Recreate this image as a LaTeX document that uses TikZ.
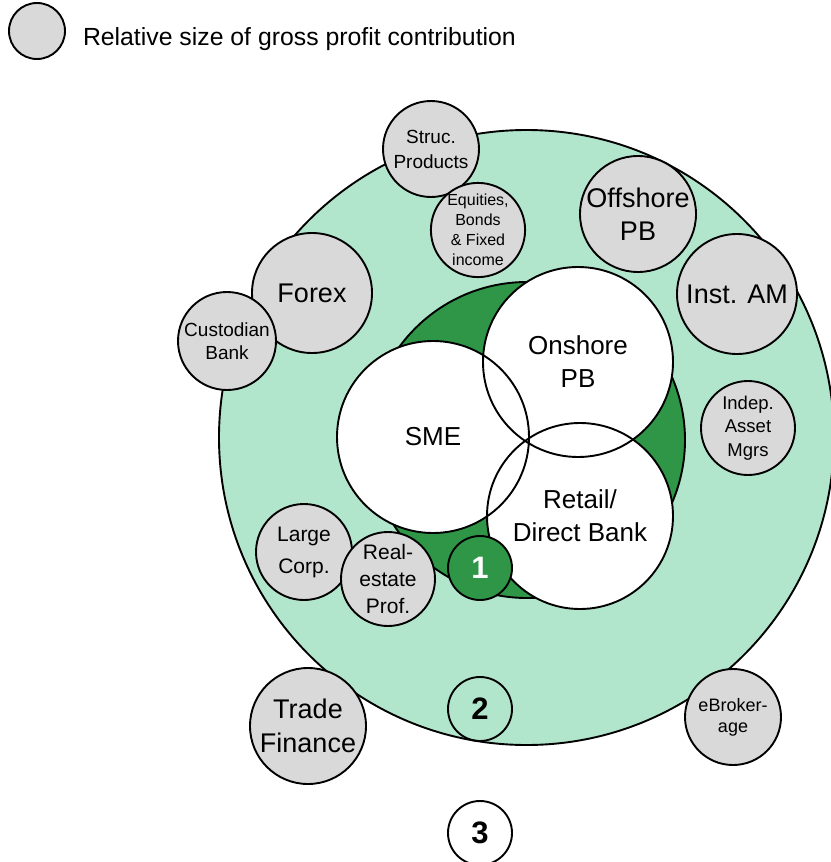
\documentclass[tikz,border=0pt]{standalone}
\usepackage{fontspec}
\setmainfont{Liberation Sans}
\definecolor{ringgreen}{RGB}{178,230,204}
\definecolor{coregreen}{RGB}{46,150,70}
\definecolor{segray}{RGB}{217,217,217}
\newcommand{\fsz}[2]{\fontsize{#1}{#2}\selectfont}
\begin{document}
\begin{tikzpicture}[x=1pt,y=-1pt,
  every node/.style={inner sep=0pt, outer sep=0pt, align=center, text=black},
  outline/.style={draw=black, line width=1.9pt},
  seg/.style={circle, outline, fill=segray},
  core/.style={circle, fill=white},
  numbox/.style={circle, outline, minimum size=64pt, font=\bfseries\fsz{31}{34}}]
\useasboundingbox (0,0) rectangle (830,862);

% legend
\node[seg, minimum size=56pt] (key) at (37,31) {};
\node[anchor=base west, font=\fsz{24.8}{28}] (keytext) at (83,45) {Relative size of gross profit contribution};

% outer ring and inner core
\node[circle, outline, fill=ringgreen, minimum size=615pt] (ring) at (526.5,437.5) {};
\node[circle, outline, fill=coregreen, minimum size=316pt] (corering) at (527,440) {};

% core segments: fill first, then outlines on top
\node[core, minimum size=192pt, font=\fsz{26}{33}] (sme) at (433,437) {SME};
\node[core, minimum size=190pt, font=\fsz{26}{33}] (onshore) at (578,362) {Onshore\\PB};
\node[core, minimum size=186pt, font=\fsz{26}{33}] (retail) at (580,516) {Retail/\\Direct Bank};
\draw[outline] (sme) circle[radius=96];
\draw[outline] (onshore) circle[radius=95];
\draw[outline] (retail) circle[radius=93];

% surrounding segments
\node[seg, minimum size=96pt, font=\fsz{19}{25}] (struc) at (431,149) {Struc.\\Products};
\node[seg, minimum size=94pt, font=\fsz{16}{20}] (equities) at (478,230) {Equities,\\Bonds\\\& Fixed\\income};
\node[seg, minimum size=116pt, font=\fsz{27}{33}] (offshore) at (638,214) {Offshore\\PB};
\node[seg, minimum size=120pt, font=\fsz{27}{33}] (instam) at (737,294) {Inst. AM};
\node[seg, minimum size=120pt, font=\fsz{27}{33}] (forex) at (312,293) {Forex};
\node[seg, minimum size=98pt, font=\fsz{19}{23}] (custodian) at (227,341) {Custodian\\Bank};
\node[seg, minimum size=94pt, font=\fsz{18.5}{23.5}] (indep) at (748,428) {Indep.\\Asset\\Mgrs};
\node[seg, minimum size=96pt, font=\fsz{21}{32}] (large) at (304,552) {Large\\Corp.};
\node[seg, minimum size=94pt, font=\fsz{21}{27}] (realestate) at (388,579) {Real-\\estate\\Prof.};
\node[seg, minimum size=96pt, font=\fsz{18}{21}] (ebroker) at (733,717) {eBroker-\\age};
\node[seg, minimum size=116pt, font=\fsz{27}{34}] (trade) at (308,726) {Trade\\Finance};

% numbered markers
\node[numbox, fill=coregreen, text=white] (one) at (480,568) {1};
\node[numbox] (two) at (480,709) {2};
\node[numbox, fill=white] (three) at (480,833) {3};
\end{tikzpicture}
\end{document}
